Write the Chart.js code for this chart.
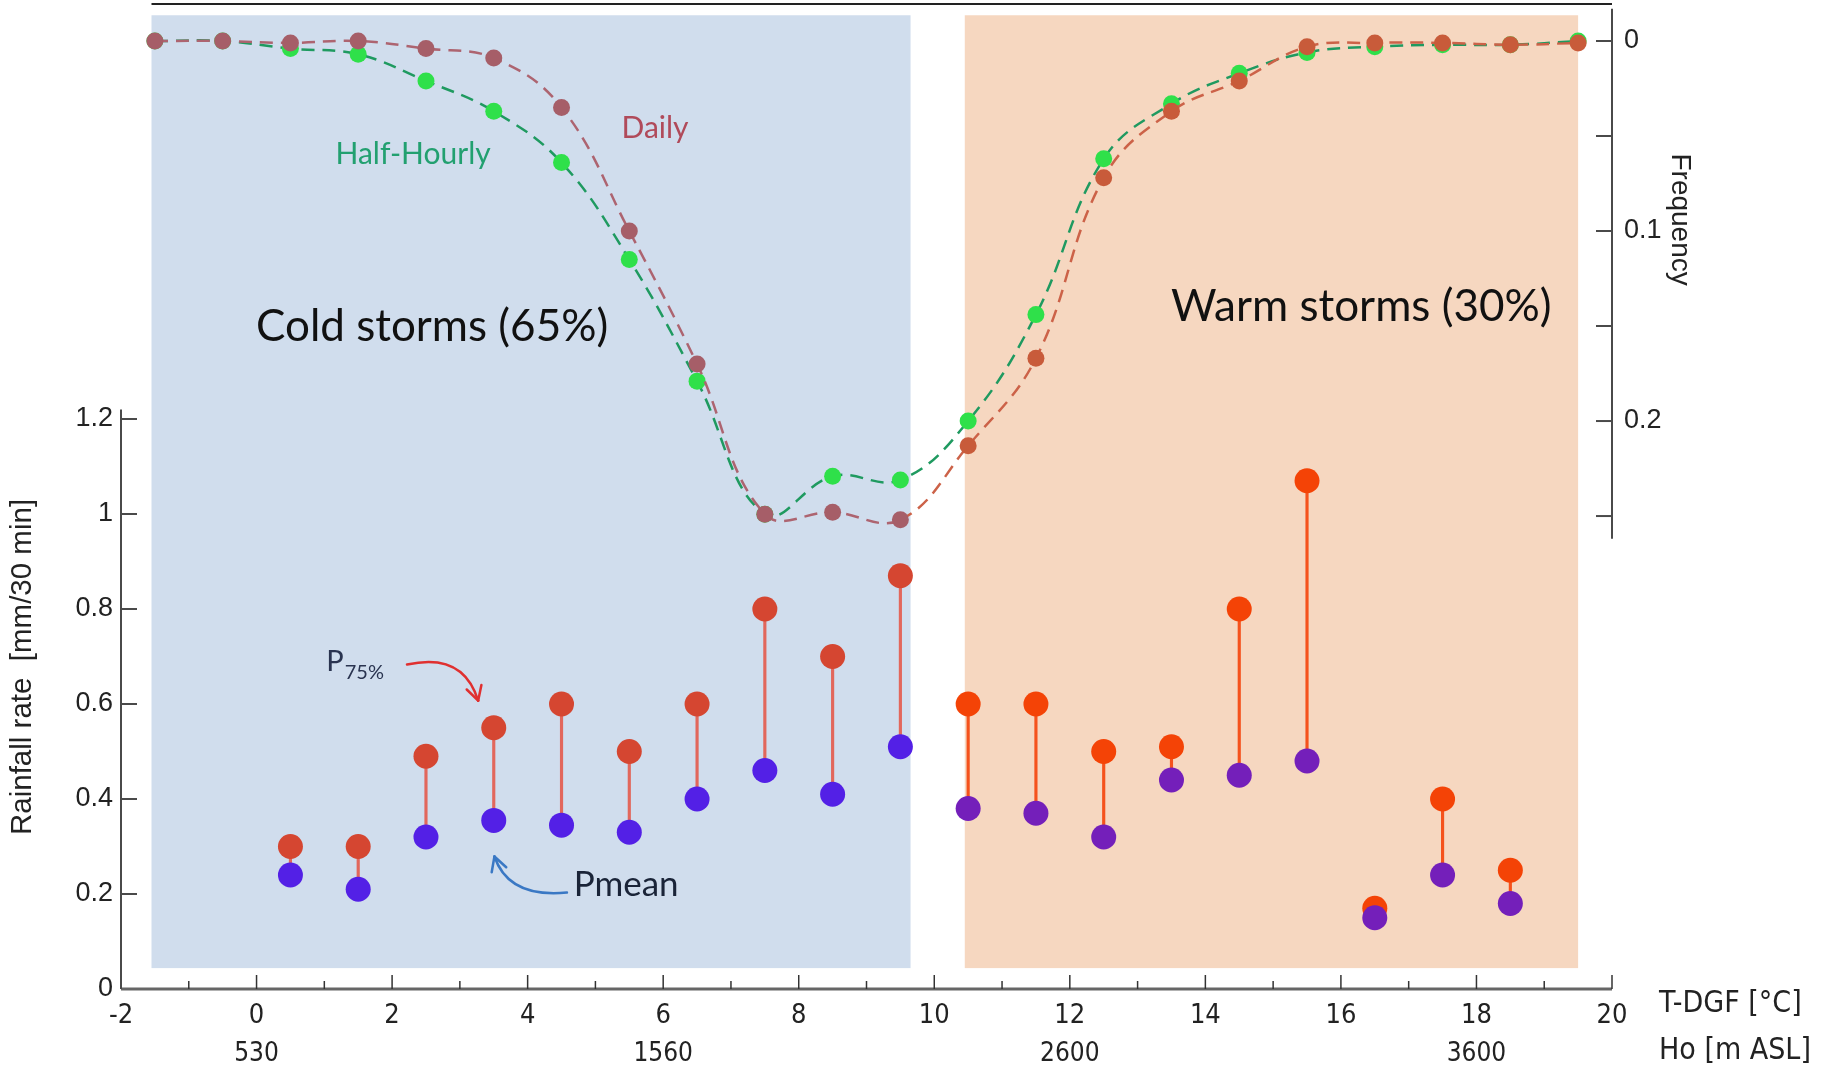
<!DOCTYPE html>
<html>
<head>
<meta charset="utf-8">
<script src="https://cdn.jsdelivr.net/npm/chart.js@4.4.1/dist/chart.umd.min.js"></script>
<style>
  html, body { margin: 0; padding: 0; background: #fff; }
  #wrap { width: 1825px; height: 1071px; }
</style>
</head>
<body>
<div id="wrap"><canvas id="chart" width="1825" height="1071"></canvas></div>
<script>
// rainfall rate per T-DGF bin (mm/30 min)
const rainX = [0.5, 1.5, 2.5, 3.5, 4.5, 5.5, 6.5, 7.5, 8.5, 9.5, 10.5, 11.5, 12.5, 13.5, 14.5, 15.5, 16.5, 17.5, 18.5];
const p75   = [0.30, 0.30, 0.49, 0.55, 0.60, 0.50, 0.60, 0.80, 0.70, 0.87, 0.60, 0.60, 0.50, 0.51, 0.80, 1.07, 0.17, 0.40, 0.25];
const pmean = [0.24, 0.21, 0.32, 0.355, 0.345, 0.33, 0.40, 0.46, 0.41, 0.51, 0.38, 0.37, 0.32, 0.44, 0.45, 0.48, 0.15, 0.24, 0.18];

// storm frequency per T-DGF bin
const freqX = [-1.5, -0.5, 0.5, 1.5, 2.5, 3.5, 4.5, 5.5, 6.5, 7.5, 8.5, 9.5, 10.5, 11.5, 12.5, 13.5, 14.5, 15.5, 16.5, 17.5, 18.5, 19.5];
const dailyFreq      = [0, 0, 0.001, 0, 0.004, 0.009, 0.035, 0.100, 0.170, 0.249, 0.248, 0.252, 0.213, 0.167, 0.072, 0.037, 0.021, 0.003, 0.001, 0.001, 0.002, 0.001];
const halfHourlyFreq = [0, 0, 0.004, 0.007, 0.021, 0.037, 0.064, 0.115, 0.179, 0.249, 0.229, 0.231, 0.200, 0.144, 0.062, 0.033, 0.017, 0.006, 0.003, 0.002, 0.002, 0];

const rainTicks = [0, 0.2, 0.4, 0.6, 0.8, 1, 1.2];
const rainLabels = ["0", "0.2", "0.4", "0.6", "0.8", "1", "1.2"];
const freqTicks = [0, 0.05, 0.1, 0.15, 0.2, 0.25];
const freqLabels = ["0", "", "0.1", "", "0.2", ""];
const hoTicks = [0, 6, 12, 18];
const hoLabels = ["530", "1560", "2600", "3600"];

// shaded storm classes (T-DGF range)
const coldBand = [-1.55, 9.65];
const warmBand = [10.45, 19.5];

const WARM_FROM = 10;
const isWarm = x => x > WARM_FROM;

const TICK_FONT = "'Liberation Sans', Arial, sans-serif";
const NARROW_FONT = "'Liberation Sans Narrow', 'DejaVu Sans Condensed', 'Liberation Sans', Arial, sans-serif";
const NOTE_FONT = "Lato, 'Open Sans', sans-serif";

function pts(xs, ys) {
    return xs.map((x, i) => ({ x, y: ys[i] }));
}

function drawLine(ctx, x0, y0, x1, y1) {
    ctx.beginPath();
    ctx.moveTo(x0, y0);
    ctx.lineTo(x1, y1);
    ctx.stroke();
}

// no edge padding from tick labels, so the plot area is fixed
function noPad(s) {
    s.paddingTop = 0;
    s.paddingBottom = 0;
    s.paddingLeft = 0;
    s.paddingRight = 0;
}

const bands = {
    id: "bands",
    beforeDatasetsDraw(chart) {
        const { ctx } = chart;
        const { x, y } = chart.scales;
        const top = y.getPixelForValue(2.05);
        const bottom = y.getPixelForValue(0.044);
        ctx.save();
        [[coldBand, "#d0dded"], [warmBand, "#f6d7c0"]].forEach(([b, color]) => {
            const x0 = x.getPixelForValue(b[0]);
            const x1 = x.getPixelForValue(b[1]);
            ctx.fillStyle = color;
            ctx.fillRect(x0, top, x1 - x0, bottom - top);
        });
        ctx.restore();
    },
};

function arrow(ctx, chart, p0, c, p1, color) {
    const { x, y } = chart.scales;
    const a = [x.getPixelForValue(p0[0]), y.getPixelForValue(p0[1])];
    const b = [x.getPixelForValue(c[0]), y.getPixelForValue(c[1])];
    const e = [x.getPixelForValue(p1[0]), y.getPixelForValue(p1[1])];
    ctx.save();
    ctx.strokeStyle = color;
    ctx.lineWidth = 2.5;
    ctx.lineCap = "round";
    ctx.beginPath();
    ctx.moveTo(a[0], a[1]);
    ctx.quadraticCurveTo(b[0], b[1], e[0], e[1]);
    ctx.stroke();
    const ang = Math.atan2(e[1] - b[1], e[0] - b[0]);
    [0.5, -0.5].forEach(d => {
        drawLine(ctx, e[0], e[1], e[0] - 16 * Math.cos(ang + d), e[1] - 16 * Math.sin(ang + d));
    });
    ctx.restore();
}

const notes = {
    id: "notes",
    afterDatasetsDraw(chart) {
        const { ctx } = chart;
        const { x, y } = chart.scales;
        const at = (vx, vy) => [x.getPixelForValue(vx), y.getPixelForValue(vy)];
        ctx.save();
        ctx.textBaseline = "middle";
        ctx.textAlign = "center";

        ctx.fillStyle = "#111";
        ctx.font = `44px ${NOTE_FONT}`;
        ctx.fillText("Cold storms (65%)", ...at(2.59, 1.394));
        ctx.fillText("Warm storms (30%)", ...at(16.3, 1.436));

        ctx.font = `30px ${NOTE_FONT}`;
        ctx.fillStyle = "#22a070";
        ctx.fillText("Half-Hourly", ...at(2.31, 1.758));
        ctx.fillStyle = "#b04a5a";
        ctx.fillText("Daily", ...at(5.88, 1.813));

        ctx.textAlign = "left";
        ctx.fillStyle = "#2a3450";
        const [pxP, pyP] = at(1.03, 0.69);
        ctx.font = `29px ${NOTE_FONT}`;
        ctx.fillText("P", pxP, pyP);
        const wP = ctx.measureText("P").width;
        ctx.font = `20px ${NOTE_FONT}`;
        ctx.fillText("75%", pxP + wP + 1, pyP + 11);

        ctx.fillStyle = "#1a2438";
        ctx.font = `35px ${NOTE_FONT}`;
        ctx.fillText("Pmean", ...at(4.68, 0.219));
        ctx.restore();

        arrow(ctx, chart, [2.22, 0.683], [3.05, 0.71], [3.27, 0.607], "#e03030");
        arrow(ctx, chart, [4.58, 0.203], [3.72, 0.191], [3.51, 0.279], "#3a78c4");
    },
};

const frame = {
    id: "frame",
    afterDraw(chart) {
        const { ctx, chartArea } = chart;
        const { x, x2, y, y2 } = chart.scales;
        ctx.save();

        // bottom axis with upward ticks
        const yb = y.getPixelForValue(0);
        const xl = x.getPixelForValue(-2);
        const xr = x.getPixelForValue(20);
        ctx.lineWidth = 3;
        ctx.strokeStyle = "#666";
        drawLine(ctx, xl, yb, xr, yb);
        ctx.lineWidth = 1.5;
        ctx.strokeStyle = "#333";
        for (let t = -1; t <= 20; t++) {
            const len = t % 2 === 0 ? 14 : 8;
            const p = x.getPixelForValue(t);
            drawLine(ctx, p, yb, p, yb - len);
        }

        // left rainfall axis
        ctx.lineWidth = 2;
        ctx.strokeStyle = "#4a4a4a";
        drawLine(ctx, xl, yb, xl, y.getPixelForValue(1.22));
        rainTicks.slice(1).forEach(v => {
            const p = y.getPixelForValue(v);
            drawLine(ctx, xl, p, xl + 16, p);
        });

        // right frequency axis
        drawLine(ctx, xr, y2.getPixelForValue(-0.017), xr, y2.getPixelForValue(0.262));
        freqTicks.forEach(v => {
            const p = y2.getPixelForValue(v);
            drawLine(ctx, xr - 16, p, xr, p);
        });

        // top frame line
        ctx.strokeStyle = "#222";
        drawLine(ctx, x.getPixelForValue(-1.55), chartArea.top, xr, chartArea.top);

        // axis titles
        ctx.fillStyle = "#222";
        ctx.textBaseline = "middle";
        ctx.textAlign = "left";
        ctx.font = `30px ${NARROW_FONT}`;
        ctx.fillText("T-DGF [°C]", xr + 47, x.top + 15);
        ctx.fillText("Ho [m ASL]", xr + 47, x2.top + 20);

        ctx.font = `29.5px ${TICK_FONT}`;
        ctx.textAlign = "center";
        ctx.save();
        ctx.translate(23, y.getPixelForValue(0.678));
        ctx.rotate(-Math.PI / 2);
        ctx.fillText("Rainfall rate  [mm/30 min]", 0, 0);
        ctx.restore();
        ctx.font = `28px ${TICK_FONT}`;
        ctx.save();
        ctx.translate(xr + 68, y2.getPixelForValue(0.094));
        ctx.rotate(Math.PI / 2);
        ctx.fillText("Frequency", 0, 0);
        ctx.restore();
        ctx.restore();
    },
};

const stemColor = x => (isWarm(x) ? "#f5521c" : "#e2675c");
const p75Color = x => (isWarm(x) ? "#f44306" : "#d54631");
const meanColor = x => (isWarm(x) ? "#741fba" : "#5320e6");
const dailyColor = x => (isWarm(x) ? "#c85b3a" : "#a65e68");
const dailyLine = x => (isWarm(x) ? "#cc6248" : "#ad6470");

const hiddenGrid = { display: false, drawTicks: false };

new Chart(document.getElementById("chart"), {
    type: "line",
    data: {
        datasets: [
            {
                type: "line",
                label: "Half-Hourly",
                xAxisID: "x",
                yAxisID: "y2",
                data: pts(freqX, halfHourlyFreq),
                borderColor: "#1f9a60",
                borderWidth: 2.5,
                borderDash: [13, 8],
                tension: 0.4,
                pointRadius: 8.5,
                pointBorderWidth: 0,
                pointBackgroundColor: "#2fe04a",
                order: 4,
            },
            {
                type: "line",
                label: "Daily",
                xAxisID: "x",
                yAxisID: "y2",
                data: pts(freqX, dailyFreq),
                borderColor: "#ad6470",
                segment: { borderColor: c => dailyLine(c.p1.parsed.x) },
                borderWidth: 2.5,
                borderDash: [13, 8],
                tension: 0.4,
                pointRadius: 8.5,
                pointBorderWidth: 0,
                pointBackgroundColor: freqX.map(dailyColor),
                order: 3,
            },
            {
                type: "bar",
                label: "range",
                xAxisID: "x",
                yAxisID: "y",
                data: rainX.map((x, i) => ({ x, y: [pmean[i], p75[i]] })),
                backgroundColor: rainX.map(stemColor),
                barThickness: 2.5,
                order: 2,
            },
            {
                type: "line",
                label: "P75%",
                xAxisID: "x",
                yAxisID: "y",
                data: pts(rainX, p75),
                showLine: false,
                pointRadius: 12.5,
                pointBorderWidth: 0,
                pointBackgroundColor: rainX.map(p75Color),
                order: 1,
            },
            {
                type: "line",
                label: "Pmean",
                xAxisID: "x",
                yAxisID: "y",
                data: pts(rainX, pmean),
                showLine: false,
                pointRadius: 12.5,
                pointBorderWidth: 0,
                pointBackgroundColor: rainX.map(meanColor),
                order: 0,
            },
        ],
    },
    options: {
        responsive: false,
        devicePixelRatio: 1,
        animation: false,
        layout: { autoPadding: false, padding: { top: 4, left: 0, right: 0, bottom: 0 } },
        plugins: { legend: { display: false }, tooltip: { enabled: false } },
        scales: {
            x: {
                type: "linear",
                position: "bottom",
                min: -2,
                max: 20,
                offset: false,
                grid: hiddenGrid,
                border: { display: false },
                ticks: { stepSize: 2, padding: 11, color: "#222", font: { family: NARROW_FONT, size: 27 } },
                afterFit: s => { noPad(s); s.height = 42; },
            },
            x2: {
                type: "linear",
                position: "bottom",
                min: -2,
                max: 20,
                offset: false,
                grid: hiddenGrid,
                border: { display: false },
                afterBuildTicks: s => { s.ticks = hoTicks.map(v => ({ value: v })); },
                ticks: {
                    padding: 8,
                    color: "#222",
                    autoSkip: false,
                    maxRotation: 0,
                    font: { family: NARROW_FONT, size: 26 },
                    callback: (v, i) => hoLabels[i],
                },
                afterFit: s => { noPad(s); s.height = 40; },
            },
            y: {
                type: "linear",
                position: "left",
                min: 0,
                max: 2.0737,
                grid: hiddenGrid,
                border: { display: false },
                afterBuildTicks: s => { s.ticks = rainTicks.map(v => ({ value: v })); },
                ticks: {
                    padding: 8,
                    color: "#222",
                    font: { family: TICK_FONT, size: 27, lineHeight: 0.25 },
                    callback: (v, i) => rainLabels[i],
                },
                afterFit: s => { noPad(s); s.width = 121; },
            },
            y2: {
                type: "linear",
                position: "right",
                reverse: true,
                min: -0.01947,
                max: 0.4989,
                grid: hiddenGrid,
                border: { display: false },
                afterBuildTicks: s => { s.ticks = freqTicks.map(v => ({ value: v })); },
                ticks: {
                    padding: 12,
                    color: "#222",
                    font: { family: TICK_FONT, size: 27, lineHeight: 0.25 },
                    callback: (v, i) => freqLabels[i],
                },
                afterFit: s => { noPad(s); s.width = 213; },
            },
        },
    },
    plugins: [bands, notes, frame],
});
</script>
</body>
</html>
